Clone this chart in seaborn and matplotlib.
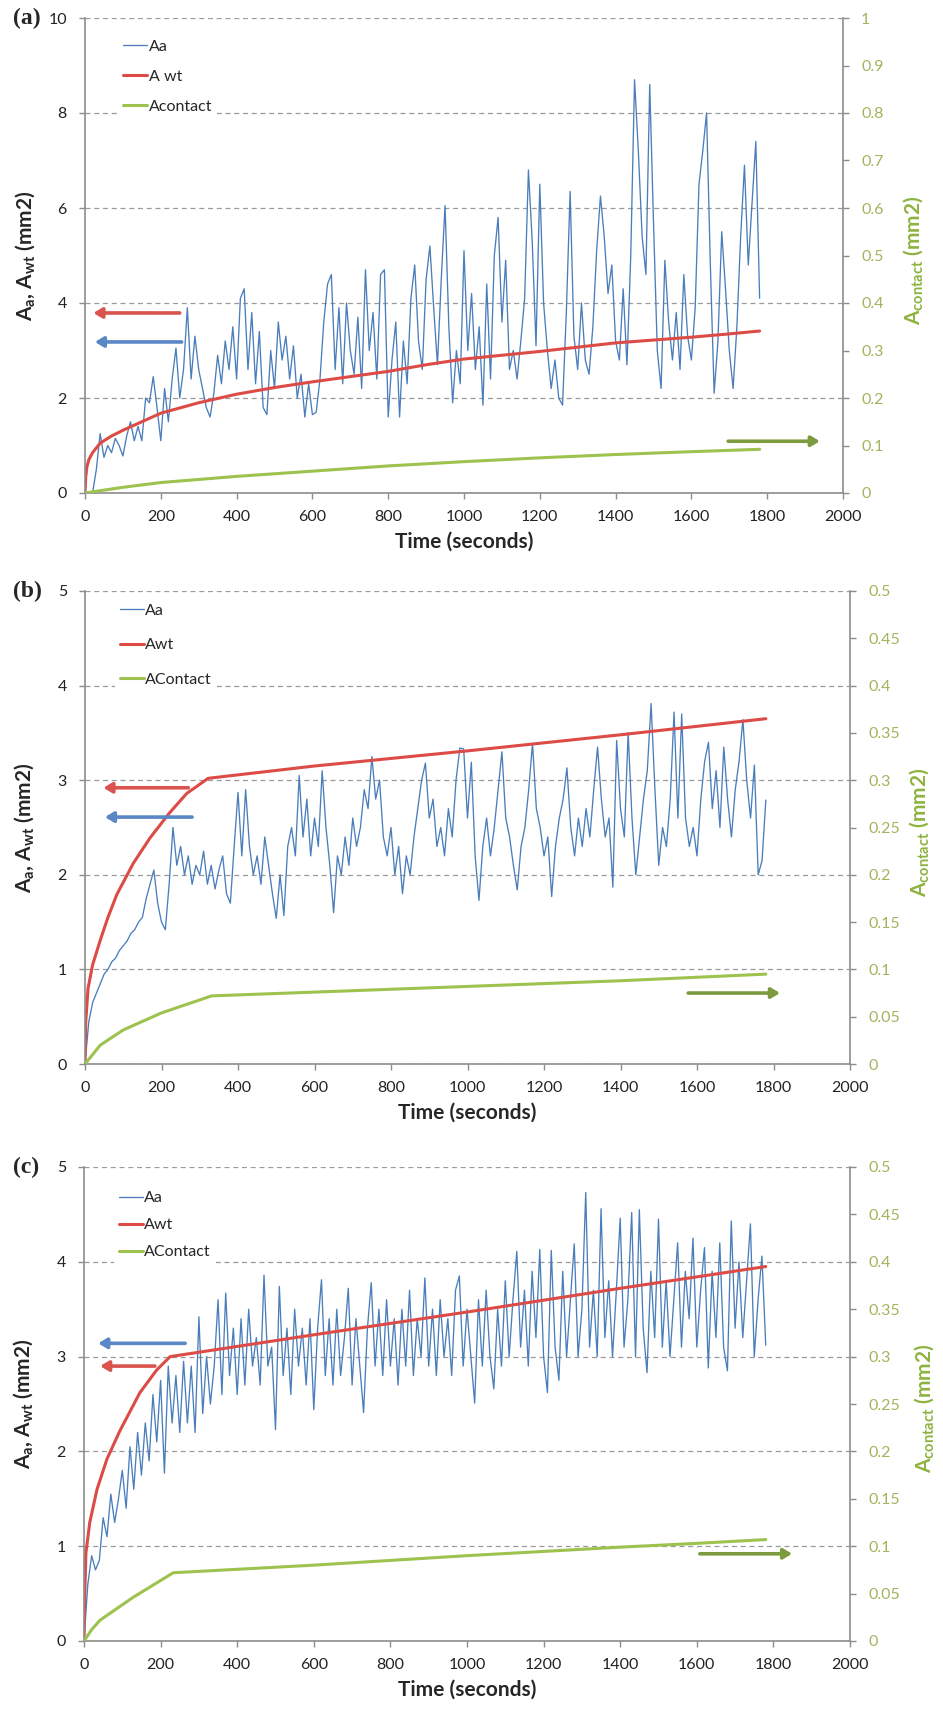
"""
Aa / Awt / Acontact vs time, three panels with twin y axes
"""
import numpy as np
import matplotlib
matplotlib.use('Agg')
import matplotlib.pyplot as plt
from matplotlib.ticker import FuncFormatter
import seaborn as sns

# ---------------- data ----------------
AA_STEP = 10  # seconds between Aa samples

# panel (a)
aa_a_start = 20
aa_a = [0.0, 0.5, 1.25, 0.75, 1.0, 0.85, 1.15, 1.0, 0.78, 1.2,
        1.5, 1.1, 1.4, 1.1, 2.0, 1.9, 2.45, 1.8, 1.1, 2.2,
        1.5, 2.4, 3.05, 2.0, 2.6, 3.9, 2.4, 3.3, 2.6, 2.2,
        1.8, 1.6, 2.1, 2.9, 2.3, 3.2, 2.6, 3.5, 2.4, 4.1,
        4.3, 2.6, 3.8, 2.3, 3.4, 1.8, 1.65, 3.0, 2.2, 3.6,
        2.8, 3.3, 2.4, 3.1, 2.0, 2.5, 1.6, 2.3, 1.65, 1.7,
        2.4, 3.6, 4.4, 4.6, 2.6, 3.9, 2.3, 4.0, 3.0, 2.5,
        3.7, 2.2, 4.7, 3.0, 3.8, 2.4, 4.6, 4.7, 1.6, 2.8,
        3.6, 1.6, 3.2, 2.3, 4.1, 4.8, 3.2, 2.6, 4.5, 5.2,
        3.9, 2.7, 4.5, 6.05, 3.5, 1.9, 3.0, 2.3, 5.1, 3.0,
        4.2, 2.6, 3.5, 1.85, 4.4, 2.4, 5.0, 5.8, 3.6, 4.9,
        2.6, 3.0, 2.4, 3.2, 4.1, 6.8, 5.3, 3.1, 6.5, 4.0,
        3.0, 2.2, 2.8, 2.0, 1.85, 3.8, 6.35, 3.3, 2.6, 4.0,
        2.8, 2.5, 3.5, 5.1, 6.25, 5.4, 4.2, 4.8, 3.2, 2.8,
        4.3, 2.7, 5.0, 8.7, 7.2, 5.4, 4.6, 8.6, 5.7, 3.0,
        2.2, 4.9, 3.6, 2.8, 3.8, 2.6, 4.6, 3.3, 2.8, 3.9,
        6.5, 7.2, 8.0, 4.8, 2.1, 3.2, 5.5, 4.3, 3.0, 2.2,
        3.5, 5.4, 6.9, 4.8, 6.1, 7.4, 4.1]
wt_a_t = [0, 2, 5, 10, 20, 40, 70, 100, 150, 200, 300, 400, 500, 600, 700,
          800, 900, 1000, 1100, 1200, 1300, 1400, 1500, 1600, 1700, 1780]
wt_a = [0.0, 0.35, 0.55, 0.7, 0.85, 1.05, 1.2, 1.32, 1.5, 1.68, 1.9, 2.08, 2.22,
        2.34, 2.45, 2.56, 2.7, 2.82, 2.9, 2.98, 3.07, 3.16, 3.22, 3.28, 3.35, 3.41]
con_a_t = [0, 100, 200, 400, 600, 800, 1000, 1200, 1400, 1600, 1780]
con_a = [0.0, 0.012, 0.022, 0.035, 0.046, 0.057, 0.066, 0.074, 0.081, 0.087, 0.092]

# panel (b)
aa_b_start = 0
aa_b = [0.0, 0.45, 0.65, 0.75, 0.85, 0.95, 1.0, 1.08, 1.12, 1.2,
        1.25, 1.3, 1.38, 1.42, 1.5, 1.55, 1.75, 1.9, 2.05, 1.7,
        1.5, 1.42, 1.9, 2.5, 2.1, 2.3, 2.0, 2.2, 1.9, 2.1,
        2.0, 2.25, 1.9, 2.1, 1.85, 2.05, 2.2, 1.8, 1.7, 2.3,
        2.87, 2.2, 2.9, 2.3, 2.0, 2.2, 1.9, 2.4, 2.1, 1.8,
        1.54, 2.0, 1.57, 2.3, 2.5, 2.2, 3.05, 2.4, 2.8, 2.2,
        2.6, 2.3, 3.1, 2.5, 2.1, 1.6, 2.2, 2.0, 2.4, 2.1,
        2.6, 2.3, 2.5, 2.9, 2.7, 3.25, 2.8, 3.0, 2.4, 2.2,
        2.5, 2.0, 2.3, 1.8, 2.2, 2.0, 2.4, 2.7, 3.0, 3.18,
        2.6, 2.8, 2.3, 2.5, 2.2, 2.7, 2.4, 3.0, 3.34, 3.33,
        2.6, 3.19, 2.2, 1.73, 2.3, 2.6, 2.2, 2.5, 2.9, 3.3,
        2.6, 2.4, 2.1, 1.84, 2.3, 2.5, 2.9, 3.39, 2.7, 2.5,
        2.2, 2.4, 1.77, 2.3, 2.6, 2.8, 3.13, 2.5, 2.2, 2.6,
        2.3, 2.7, 2.4, 2.9, 3.35, 2.8, 2.4, 2.6, 1.87, 3.42,
        2.7, 2.4, 3.5, 2.6, 2.0, 2.4, 2.8, 3.1, 3.81, 2.9,
        2.1, 2.5, 2.3, 2.8, 3.72, 2.6, 3.7, 2.6, 2.3, 2.5,
        2.2, 2.8, 3.2, 3.4, 2.7, 3.1, 2.5, 3.35, 2.8, 2.4,
        2.9, 3.2, 3.64, 3.0, 2.6, 3.16, 2.0, 2.15, 2.79]
wt_b_t = [0, 2, 8, 20, 40, 60, 83, 126, 170, 220, 266, 322, 600, 1000, 1400, 1780]
wt_b = [0.0, 0.45, 0.8, 1.05, 1.31, 1.55, 1.79, 2.12, 2.39, 2.65, 2.86, 3.02,
        3.15, 3.31, 3.48, 3.65]
con_b_t = [0, 40, 100, 200, 331, 600, 1000, 1400, 1780]
con_b = [0.0, 0.02, 0.036, 0.054, 0.072, 0.076, 0.082, 0.088, 0.095]

# panel (c)
aa_c_start = 0
aa_c = [0.0, 0.6, 0.9, 0.75, 0.85, 1.3, 1.1, 1.55, 1.25, 1.5,
        1.8, 1.4, 2.05, 1.6, 2.2, 1.75, 2.3, 1.9, 2.6, 2.1,
        2.75, 1.77, 2.9, 2.3, 2.8, 2.2, 2.95, 2.3, 2.9, 2.2,
        3.42, 2.4, 3.0, 2.5, 2.9, 3.6, 2.6, 3.67, 2.8, 3.3,
        2.6, 3.4, 2.7, 3.5, 2.9, 3.2, 2.7, 3.86, 2.9, 3.1,
        2.23, 3.74, 2.8, 3.3, 2.6, 3.5, 2.9, 3.3, 2.7, 3.4,
        2.44, 3.3, 3.81, 2.8, 3.4, 2.7, 3.5, 2.8, 3.2, 3.72,
        2.7, 3.4, 2.9, 2.41, 3.3, 3.78, 2.9, 3.5, 2.8, 3.6,
        2.9, 3.4, 2.7, 3.5, 2.9, 3.7, 2.8, 3.4, 3.0, 3.83,
        2.9, 3.5, 2.8, 3.6, 3.0, 3.4, 2.8, 3.7, 3.85, 2.9,
        3.5, 3.0, 2.51, 3.6, 2.9, 3.7, 3.0, 2.66, 3.5, 2.9,
        3.8, 3.0, 3.6, 4.11, 3.1, 3.7, 2.9, 3.9, 3.2, 4.13,
        3.0, 2.62, 4.12, 3.1, 2.75, 3.9, 3.0, 3.6, 4.19, 3.0,
        3.5, 4.73, 3.1, 3.7, 3.0, 4.56, 3.2, 3.8, 3.0, 3.7,
        4.46, 3.1, 3.6, 4.52, 3.0, 4.55, 3.3, 2.83, 3.9, 3.2,
        4.45, 3.1, 3.8, 3.0, 3.6, 4.2, 3.1, 3.9, 3.4, 4.25,
        3.1, 3.7, 4.15, 2.88, 3.9, 3.2, 4.2, 3.1, 2.85, 4.43,
        3.3, 4.0, 3.2, 3.8, 4.4, 3.0, 3.6, 4.06, 3.12]
wt_c_t = [0, 2, 5, 15, 34, 60, 94, 146, 190, 225, 600, 1000, 1400, 1780]
wt_c = [0.0, 0.5, 0.93, 1.25, 1.6, 1.92, 2.22, 2.62, 2.86, 3.0, 3.23, 3.47, 3.72, 3.95]
con_c_t = [0, 20, 42, 128, 233, 600, 1000, 1400, 1600, 1780]
con_c = [0.0, 0.012, 0.022, 0.046, 0.072, 0.08, 0.09, 0.099, 0.103, 0.107]

names_a = ['Aa', 'A wt', 'Acontact']
names_bc = ['Aa', 'Awt', 'AContact']

BLUE = '#4A7EBB'
RED = '#DC4B46'
GREEN = '#9DC24E'
GRAY = '#8c8c8c'
TICK_GREEN = '#A0B55C'
LABEL_GREEN = '#8DB33F'
ARROW_RED = '#D9534F'
ARROW_BLUE = '#5A87C5'
ARROW_GREEN = '#7E9A3E'

sns.set_style('ticks')
plt.rcParams['font.family'] = ['Lato', 'DejaVu Sans']

fig = plt.figure(figsize=(9.43, 17.11), dpi=100)
W, H = 943.0, 1711.0


def panel(box, t_aa, aa, t_wt, wt, t_con, con, names, ymax, ystep, y2max, y2step,
          leg_xy, leg_sp, arrows, letter, lab_x, lab2_x):
    # box in pixels: left, top, right, bottom
    l, t, r, b = box
    ax = fig.add_axes([l / W, 1 - b / H, (r - l) / W, (b - t) / H])
    ax2 = ax.twinx()

    sns.lineplot(x=t_aa, y=aa, ax=ax, color=BLUE, lw=0.95, label=names[0], legend=False)
    sns.lineplot(x=t_wt, y=wt, ax=ax, color=RED, lw=2.2, label=names[1], legend=False)
    sns.lineplot(x=t_con, y=con, ax=ax2, color=GREEN, lw=2.2, label=names[2], legend=False)

    ax.set_xlim(0, 2000)
    ax.set_ylim(0, ymax)
    ax2.set_ylim(0, y2max)
    ax.set_xticks(np.arange(0, 2001, 200))
    ax.set_yticks(np.arange(0, ymax + 1e-9, ystep))
    ax2.set_yticks(np.arange(0, y2max + 1e-9, y2step))
    ax2.yaxis.set_major_formatter(FuncFormatter(lambda v, p: f'{v:g}'))

    ax.yaxis.grid(True, ls=(0, (4, 3)), color='#9a9a9a', lw=0.9)
    ax.xaxis.grid(False)
    ax.set_axisbelow(True)

    for s in ['top', 'right']:
        ax.spines[s].set_visible(False)
    for s in ['top', 'left', 'bottom']:
        ax2.spines[s].set_visible(False)
    for s in ['left', 'bottom']:
        ax.spines[s].set_color(GRAY)
        ax.spines[s].set_linewidth(1.2)
    ax2.spines['right'].set_color(GRAY)
    ax2.spines['right'].set_linewidth(1.2)

    ax.tick_params(axis='both', direction='out', length=4, width=1, color=GRAY,
                   labelsize=11.5, labelcolor='#222222')
    ax.tick_params(axis='y', pad=9)
    ax.tick_params(axis='x', pad=8)
    ax2.tick_params(axis='y', direction='out', length=4, width=1, color=GRAY,
                    labelsize=11.5, labelcolor=TICK_GREEN, pad=9)

    ax.set_xlabel('Time (seconds)', fontsize=15, fontweight='bold', labelpad=6)
    ax.set_ylabel(r'A$_\mathregular{a}$, A$_\mathregular{wt}$ (mm2)', fontsize=15,
                  fontweight='bold')
    ax.yaxis.set_label_coords(lab_x, 0.5)
    ax2.set_ylabel(r'A$_\mathregular{contact}$ (mm2)', fontsize=15, fontweight='bold',
                   color=LABEL_GREEN, rotation=90)
    ax2.yaxis.set_label_coords(lab2_x, 0.49)

    for tail, head, y, col, side in arrows:
        target = ax if side == 'left' else ax2
        target.annotate('', xy=(head, y), xytext=(tail, y),
                        arrowprops=dict(arrowstyle='-|>,head_length=0.5,head_width=0.3',
                                        color=col, lw=2.6, shrinkA=0, shrinkB=0))

    h1, l1 = ax.get_legend_handles_labels()
    h2, l2 = ax2.get_legend_handles_labels()
    ax2.legend(h1 + h2, l1 + l2, loc='upper left', bbox_to_anchor=leg_xy,
               borderaxespad=0, frameon=True, facecolor='white', edgecolor='none',
               framealpha=1, fancybox=False, handlelength=1.5, handletextpad=0.1,
               labelspacing=leg_sp, fontsize=11.5, borderpad=0.3)

    fig.text(13 / W, 1 - t / H, letter, fontsize=17, fontweight='bold',
             family='Liberation Serif', va='center', ha='left')
    return ax, ax2


panel((85, 18, 843, 493),
      aa_a_start + AA_STEP * np.arange(len(aa_a)), aa_a, wt_a_t, wt_a, con_a_t, con_a,
      names_a, 10, 2, 1.0, 0.1, (0.044, 0.965), 1.0,
      [(250, 22, 3.79, ARROW_RED, 'left'), (255, 26, 3.18, ARROW_BLUE, 'left'),
       (1697, 1939, 0.109, ARROW_GREEN, 'right')],
      '(a)', -0.062, 1.077)

panel((85, 591, 850, 1064),
      aa_b_start + AA_STEP * np.arange(len(aa_b)), aa_b, wt_b_t, wt_b, con_b_t, con_b,
      names_bc, 5, 1, 0.5, 0.05, (0.039, 0.984), 1.28,
      [(270, 48, 2.92, ARROW_RED, 'left'), (280, 52, 2.61, ARROW_BLUE, 'left'),
       (1577, 1817, 0.075, ARROW_GREEN, 'right')],
      '(b)', -0.063, 1.076)

panel((84, 1167, 850, 1641),
      aa_c_start + AA_STEP * np.arange(len(aa_c)), aa_c, wt_c_t, wt_c, con_c_t, con_c,
      names_bc, 5, 1, 0.5, 0.05, (0.039, 0.959), 0.8,
      [(264, 37, 3.14, ARROW_BLUE, 'left'), (185, 42, 2.9, ARROW_RED, 'left'),
       (1608, 1849, 0.092, ARROW_GREEN, 'right')],
      '(c)', -0.063, 1.082)

fig.savefig('out.png', dpi=100)
